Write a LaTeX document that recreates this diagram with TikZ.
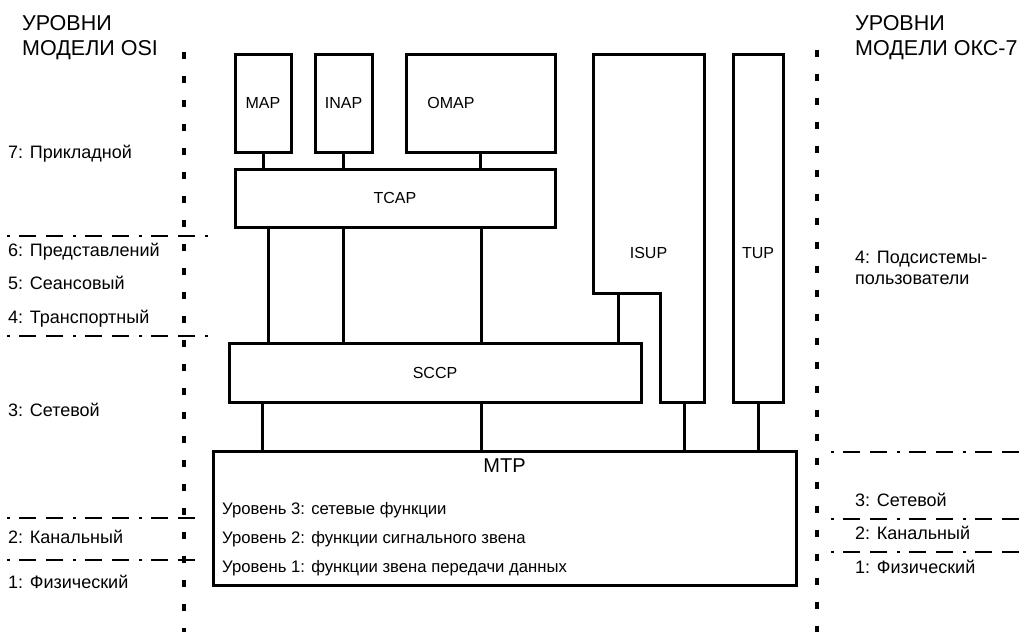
\documentclass[tikz,border=0pt]{standalone}
\usepackage{fontspec}
\setmainfont{Liberation Sans}
\begin{document}
\begin{tikzpicture}[x=1pt,y=-1pt,
  box/.style={draw, line width=3pt, inner sep=0pt, font=\fontsize{16}{19}\selectfont},
  conn/.style={line width=3pt},
  lvl/.style={line width=2pt, dash pattern=on 3pt off 9pt on 17pt off 10pt on 17pt off 10pt},
  vdot/.style={line width=3.5pt, dash pattern=on 7pt off 17pt},
  lbl/.style={anchor=base west, inner sep=0pt, font=\fontsize{18}{21}\selectfont},
  hdr/.style={anchor=base west, inner sep=0pt, font=\fontsize{21.5}{25}\selectfont},
  mtpl/.style={anchor=base west, inner sep=0pt, font=\fontsize{16.7}{20}\selectfont},
  boxl/.style={inner sep=0pt, font=\fontsize{16}{19}\selectfont}]
\useasboundingbox (0,0) rectangle (1028,632);

% headers
\node[hdr] (h1a) at (22,30) {УРОВНИ};
\node[hdr] (h1b) at (22,55) {МОДЕЛИ OSI};
\node[hdr] (h2a) at (855,30) {УРОВНИ};
\node[hdr] (h2b) at (855,55) {МОДЕЛИ ОКС-7};

% vertical dotted separators
\coordinate (vlt) at (184,52);
\coordinate (vlb) at (184,632);
\coordinate (vrt) at (817,50);
\coordinate (vrb) at (817,632);
\draw[vdot] (vlt) -- (vlb);
\draw[vdot] (vrt) -- (vrb);

% left level lines
\coordinate (l1a) at (7,236);  \coordinate (l1b) at (210,236);
\coordinate (l2a) at (7,336);  \coordinate (l2b) at (210,336);
\coordinate (l3a) at (7,518);  \coordinate (l3b) at (203,518);
\coordinate (l4a) at (7,560);  \coordinate (l4b) at (203,560);
\draw[lvl] (l1a) -- (l1b);
\draw[lvl] (l2a) -- (l2b);
\draw[lvl] (l3a) -- (l3b);
\draw[lvl] (l4a) -- (l4b);

% right level lines
\coordinate (r1a) at (831,452); \coordinate (r1b) at (1028,452);
\coordinate (r2a) at (831,519); \coordinate (r2b) at (1028,519);
\coordinate (r3a) at (831,552); \coordinate (r3b) at (1028,552);
\draw[lvl] (r1a) -- (r1b);
\draw[lvl] (r2a) -- (r2b);
\draw[lvl] (r3a) -- (r3b);

% left labels
\node[lbl] (o7) at (8,158) {7: Прикладной};
\node[lbl] (o6) at (8,256) {6: Представлений};
\node[lbl] (o5) at (8,289) {5: Сеансовый};
\node[lbl] (o4) at (8,323) {4: Транспортный};
\node[lbl] (o3) at (8,416) {3: Сетевой};
\node[lbl] (o2) at (8,543) {2: Канальный};
\node[lbl] (o1) at (8,588) {1: Физический};

% right labels
\node[lbl] (k4a) at (855,263) {4: Подсистемы-};
\node[lbl] (k4b) at (855,284) {пользователи};
\node[lbl] (k3) at (855,506) {3: Сетевой};
\node[lbl] (k2) at (855,539) {2: Канальный};
\node[lbl] (k1) at (855,573) {1: Физический};

% boxes
\node[box, minimum width=56pt, minimum height=98pt] (map) at (263,103) {MAP};
\node[box, minimum width=57pt, minimum height=98pt] (inap) at (343.5,103) {INAP};
\node[box, minimum width=149pt, minimum height=98pt] (omap) at (480.5,103) {};
\node[boxl] (omapl) at (451,103) {OMAP};
\node[box, minimum width=320pt, minimum height=58pt] (tcap) at (395,198) {TCAP};
\node[box, minimum width=412pt, minimum height=59pt] (sccp) at (435,372.5) {SCCP};
\node[box, minimum width=50pt, minimum height=348pt] (tup) at (758,228) {};
\node[boxl] (tupl) at (758,253) {TUP};
\node[box, minimum width=583pt, minimum height=134pt] (mtp) at (504.5,518) {};

% ISUP shape
\draw[line width=3pt, line join=miter] (593,54) -- (704,54) -- (704,402) -- (660,402) -- (660,293) -- (593,293) -- cycle;
\node[boxl] (isupl) at (648.5,253) {ISUP};
\coordinate (isupn) at (618,293);
\coordinate (isupb) at (684,402);

% MTP texts
\node[anchor=base, inner sep=0pt, font=\fontsize{20}{24}\selectfont] (mtpt) at (504.5,472) {MTP};
\node[mtpl] (m3) at (222,514) {Уровень 3: сетевые функции};
\node[mtpl] (m2) at (222,543) {Уровень 2: функции сигнального звена};
\node[mtpl] (m1) at (222,572) {Уровень 1: функции звена передачи данных};

% connectors
\draw[conn] (map.south) -- (map.south |- tcap.north);
\draw[conn] (inap.south) -- (inap.south |- tcap.north);
\draw[conn] (omap.south) -- (omap.south |- tcap.north);
\draw[conn] (268,0 |- tcap.south) -- (268,0 |- sccp.north);
\draw[conn] (343,0 |- tcap.south) -- (343,0 |- sccp.north);
\draw[conn] (481,0 |- tcap.south) -- (481,0 |- sccp.north);
\draw[conn] (isupn) -- (isupn |- sccp.north);
\draw[conn] (262,0 |- sccp.south) -- (262,0 |- mtp.north);
\draw[conn] (481,0 |- sccp.south) -- (481,0 |- mtp.north);
\draw[conn] (isupb) -- (isupb |- mtp.north);
\draw[conn] (tup.south) -- (tup.south |- mtp.north);
\end{tikzpicture}
\end{document}
